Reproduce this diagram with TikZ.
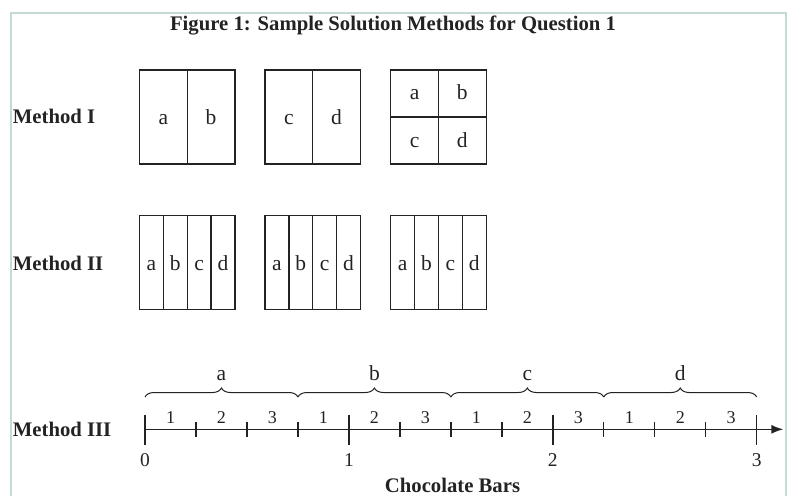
\documentclass[tikz,border=0pt]{standalone}
\usepackage{fontspec}
\setmainfont{Liberation Serif}
\usetikzlibrary{arrows.meta,decorations.pathreplacing}
\definecolor{framegreen}{RGB}{196,219,212}
\definecolor{ink}{RGB}{35,35,35}

\begin{document}
\begin{tikzpicture}[
	x = 1pt, y = -1pt,
	box/.style = {line width = 1.4pt, ink},
	letter/.style = {anchor = base, inner sep = 0pt, ink, font = \fontsize{21.5}{22}\selectfont},
	part/.style = {anchor = base, inner sep = 0pt, ink, font = \fontsize{18}{18}\selectfont},
	method/.style = {anchor = base west, inner sep = 0pt, ink, font = \fontsize{20.7}{21}\selectfont\bfseries},
	heading/.style = {anchor = base, inner sep = 0pt, ink, font = \fontsize{20.7}{21}\selectfont\bfseries},
	axis/.style = {line width = 1.4pt, ink},
	shareBrace/.style = {decorate, decoration = {brace, amplitude = 9pt}, line width = 1pt, ink}
]

\useasboundingbox (0,0) rectangle (791,496);
\draw[framegreen, line width = 2pt] (10.5,496) -- (10.5,12.5) -- (785.5,12.5) -- (785.5,496);

\node[heading] (title) at (393,30) {Figure 1: Sample Solution Methods for Question 1};

\node[method] (methodI) at (12.7,123.3) {Method I};
\node[method] (methodII) at (12.7,270) {Method II};
\node[method] (methodIII) at (12.7,436.7) {Method III};

\foreach \X/\l/\r in {139.5/a/b, 265/c/d} {
	\draw[box] (\X,70) rectangle ++(95.5,94);
	\draw[box] (\X+47.75,70) -- ++(0,94);
	\node[letter] (one-\l) at (\X+24,124) {\l};
	\node[letter] (one-\r) at (\X+71.5,124) {\r};
}

\draw[box] (390.7,70) rectangle ++(95.5,94);
\draw[box] (438.45,70) -- ++(0,94) (390.7,117) -- ++(95.5,0);
\node[letter] (four-a) at (414.6,99.3) {a};
\node[letter] (four-b) at (462.3,99.3) {b};
\node[letter] (four-c) at (414.6,147.3) {c};
\node[letter] (four-d) at (462.3,147.3) {d};

\foreach \X [count=\k] in {139.5, 265, 390.7} {
	\draw[box] (\X,215.7) rectangle ++(95.5,93.5);
	\foreach \j in {1,2,3}
		\draw[box] (\X+\j*23.875,215.7) -- ++(0,93.5);
	\foreach \l [count=\j] in {a,b,c,d}
		\node[letter] (two-\k\l) at (\X+\j*23.875-11.94,270) {\l};
}

\coordinate (origin) at (145,429.3);
\coordinate (tip) at (783.3,429.3);
\draw[axis, -{Latex[length=12pt, width=9pt]}] (origin) -- (tip);

\foreach \t in {1,2,3,5,6,7,9,10,11}
	\draw[axis] (145+\t*50.975,421.7) -- ++(0,15.6);

\foreach \n in {0,...,3} {
	\draw[axis] (145+\n*203.9,415) -- ++(0,30);
	\node[letter, font = \fontsize{19.5}{20}\selectfont] (bar\n) at (145+\n*203.9,466) {\n};
}

\foreach \t in {0,...,11} {
	\pgfmathtruncatemacro{\lab}{mod(\t,3)+1}
	\node[part] (part\t) at (145+\t*50.975+25.5,423.3) {\lab};
}

\foreach \p [count=\s from 0] in {a,b,c,d} {
	\draw[shareBrace] (145+\s*152.925,397) -- (145+\s*152.925+152.925,397);
	\node[letter] (share-\p) at (145+\s*152.925+76.46,380) {\p};
}

\node[heading] (unit) at (452.5,492.5) {Chocolate Bars};

\end{tikzpicture}
\end{document}
